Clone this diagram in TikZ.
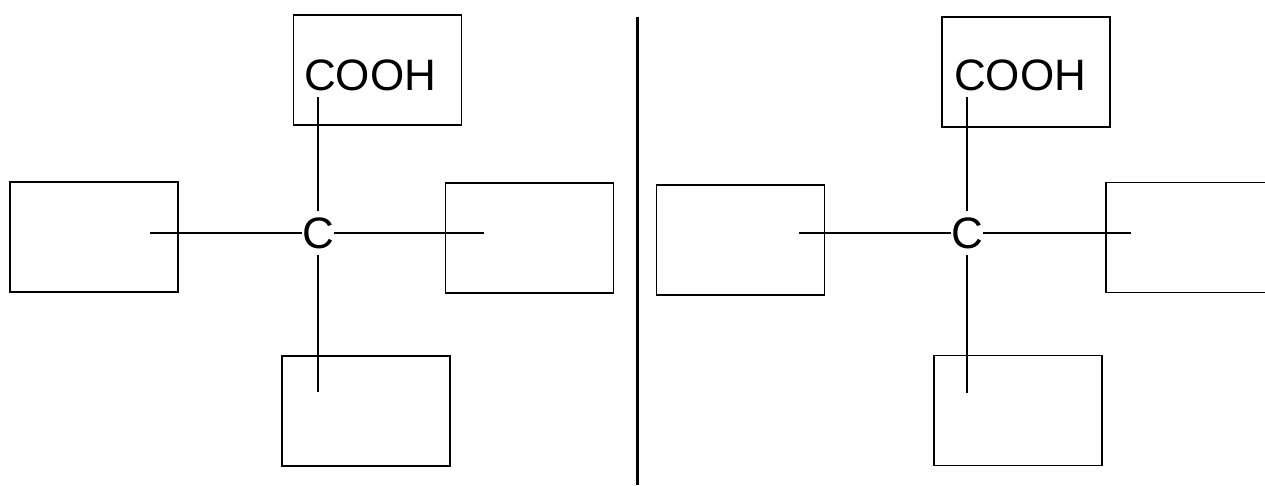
\documentclass[tikz,border=0pt]{standalone}
\usepackage{fontspec}
\setmainfont{Liberation Sans}
\begin{document}
\begin{tikzpicture}[x=1pt,y=-1pt,
  slot/.style={draw,line width=1.3pt,inner sep=0pt,minimum width=168pt,minimum height=110pt},
  atom/.style={inner xsep=0pt,inner ysep=6pt,font=\fontsize{44}{50}\selectfont},
  label/.style={inner sep=0pt,anchor=base west,font=\fontsize{44}{50}\selectfont},
  bond/.style={line width=2pt},
  divider/.style={line width=3pt}]
\useasboundingbox (0,0) rectangle (1265,485);
\clip (0,0) rectangle (1265,485);
% left molecule
\node[slot] (Ltop) at (377.5,70) {};
\node[slot] (Lleft) at (94,237) {};
\node[slot] (Lright) at (529.5,238) {};
\node[slot] (Lbot) at (366,411) {};
\node[label] (Lcooh) at (304,90) {COOH};
\node[atom] (LC) at (318,233) {C};
\coordinate (Lw) at (150,233);
\coordinate (Le) at (484,233);
\coordinate (Ln) at (318,97);
\coordinate (Ls) at (318,392);
\draw[bond] (LC) -- (Lw);
\draw[bond] (LC) -- (Le);
\draw[bond] (LC) -- (Ln);
\draw[bond] (LC) -- (Ls);
% divider
\coordinate (Dt) at (637,17);
\coordinate (Db) at (637,485);
\draw[divider] (Dt) -- (Db);
% right molecule
\node[slot] (Rtop) at (1026,72) {};
\node[slot] (Rleft) at (740.5,240) {};
\node[slot] (Rright) at (1190,237.5) {};
\node[slot] (Rbot) at (1018,410.5) {};
\node[label] (Rcooh) at (954,90) {COOH};
\node[atom] (RC) at (967,233) {C};
\coordinate (Rw) at (799,233);
\coordinate (Re) at (1131,233);
\coordinate (Rn) at (967,97);
\coordinate (Rs) at (967,393);
\draw[bond] (RC) -- (Rw);
\draw[bond] (RC) -- (Re);
\draw[bond] (RC) -- (Rn);
\draw[bond] (RC) -- (Rs);
\end{tikzpicture}
\end{document}
